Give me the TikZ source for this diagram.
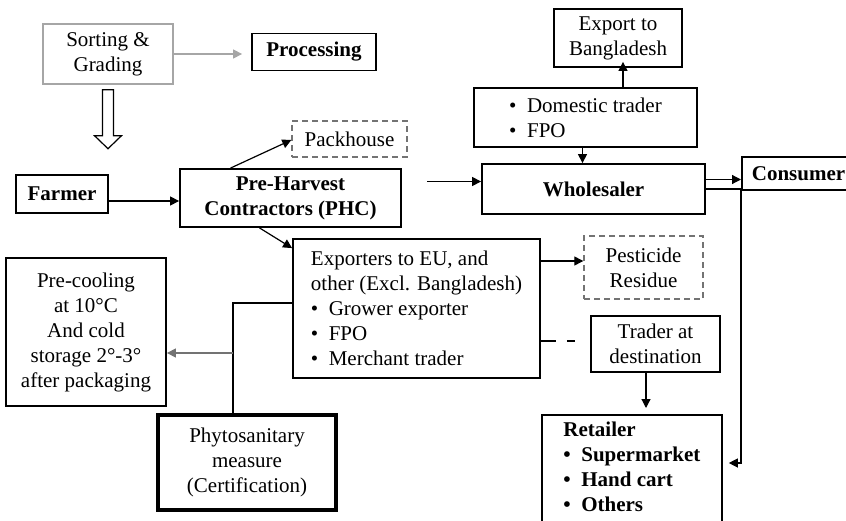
\documentclass[tikz,border=0pt]{standalone}
\usepackage{fontspec}
\setmainfont{Liberation Serif}
\usetikzlibrary{arrows.meta}
\newcommand{\blt}{\textbullet\enspace}

\begin{document}
\begin{tikzpicture}
	[x=1bp,y=-1bp,line width=1.2bp,font=\fontsize{21bp}{25bp}\selectfont,
	box/.style={draw,line width=1.8bp,inner sep=0pt,align=center},
	greybox/.style={box,draw=black!35,line width=1.4bp},
	dashbox/.style={box,draw=black!55,line width=1.4bp,dash pattern=on 6bp off 4bp},
	heavybox/.style={box,line width=4bp},
	listbox/.style={box,align=left},
	>={Triangle[length=9bp,width=9bp]}]
	\useasboundingbox (0,0) rectangle (846,521);
	\clip (0,0) rectangle (846,521);
	\node[greybox,name=sort,minimum width=130bp,minimum height=60bp]at(108,54){Sorting \&\\Grading};
	\node[box,name=proc,minimum width=124bp,minimum height=37bp]at(314,52){\textbf{Processing}};
	\node[dashbox,name=pack,minimum width=115bp,minimum height=36bp]at(349.5,139){Packhouse};
	\node[box,name=farmer,minimum width=92bp,minimum height=38bp]at(62,194){\textbf{Farmer}};
	\node[box,name=phc,minimum width=221bp,minimum height=58bp]at(290.5,198){\textbf{Pre-Harvest}\\\textbf{Contractors (PHC)}};
	\node[box,name=expb,minimum width=128bp,minimum height=58bp]at(618,38){Export to\\Bangladesh};
	\node[listbox,name=dom,minimum width=223bp,minimum height=59bp]at(585.5,117.5){\blt Domestic trader\\\blt FPO};
	\node[box,name=whole,minimum width=223bp,minimum height=50bp]at(593.5,189){\textbf{Wholesaler}};
	\node[box,name=cons,anchor=west,inner xsep=10bp,minimum height=33bp]at(741,173.5){\textbf{Consumer}};
	\node[listbox,name=expo,minimum width=247bp,minimum height=139bp]at(416.5,308.5){Exporters to EU, and\\other (Excl. Bangladesh)\\\blt Grower exporter\\\blt FPO\\\blt Merchant trader};
	\node[dashbox,name=pest,minimum width=119bp,minimum height=63bp]at(643.5,267.5){Pesticide\\Residue};
	\node[box,name=trader,minimum width=129bp,minimum height=56bp]at(655.5,344){Trader at\\destination};
	\node[listbox,name=ret,anchor=north west,minimum width=180bp,inner ysep=7bp,font=\fontsize{21bp}{25bp}\selectfont\bfseries]at(541,414){Retailer\\\blt Supermarket\\\blt Hand cart\\\blt Others\rule[-24bp]{0pt}{0pt}};
	\node[box,name=precool,minimum width=160bp,minimum height=148bp]at(86,332){Pre-cooling\\at 10°C\\And cold\\storage 2°-3°\\after packaging};
	\node[heavybox,name=phyto,minimum width=178bp,minimum height=95bp]at(247,462.5){Phytosanitary\\measure\\(Certification)};
	\draw[->,draw=black!35,fill=black!35,line width=1.3bp,shorten >=9bp] (sort.east) -- (sort.east -| proc.west);
	\draw[line width=1.2bp] (sort.south) ++(-5.5,5) -- ++(0,46) -- ++(-8,0) -- ++(13.5,13) -- ++(13.5,-13) -- ++(-8,0) -- ++(0,-46) -- cycle;
	\draw[->] ([yshift=-7bp]farmer.east) -- ([yshift=-7bp]farmer.east -| phc.west);
	\draw[->] ([xshift=-60bp]phc.north) -- ([yshift=-1bp]pack.west);
	\draw[->] ([xshift=-31bp]phc.south) -- ([yshift=-10bp]expo.north west);
	\coordinate (win) at (427,181.5);
	\draw[->] (win) -- (win -| whole.west);
	\draw[->] ([xshift=37.5bp]dom.north) -- ([xshift=37.5bp,yshift=6bp]dom.north |- expb.south);
	\draw[->] ([xshift=-3bp]dom.south) -- ([xshift=-3bp]dom.south |- whole.north);
	\draw[->] ([yshift=9.5bp]whole.east) -- ([yshift=9.5bp]whole.east -| cons.west);
	\path (ret.north east) ++(0,49) coordinate (retin);
	\draw[->,shorten >=6bp] (whole.east) -- (whole.east -| cons.west) |- (retin);
	\draw[->] ([yshift=6.5bp]pest.west -| expo.east) -- ([yshift=6.5bp]pest.west);
	\draw[dash pattern=on 15bp off 11bp] ([yshift=-32.5bp]expo.east) -- ++(34,0);
	\draw[->,shorten >=6bp] ([xshift=-9.5bp]trader.south) -- ([xshift=-9.5bp]trader.south |- ret.north);
	\coordinate (jn) at (233,353);
	\draw ([yshift=5.5bp]expo.west) -| (jn) -- (jn |- phyto.north);
	\draw[->,draw=black!55] (jn) -- (jn -| precool.east);
\end{tikzpicture}
\end{document}
